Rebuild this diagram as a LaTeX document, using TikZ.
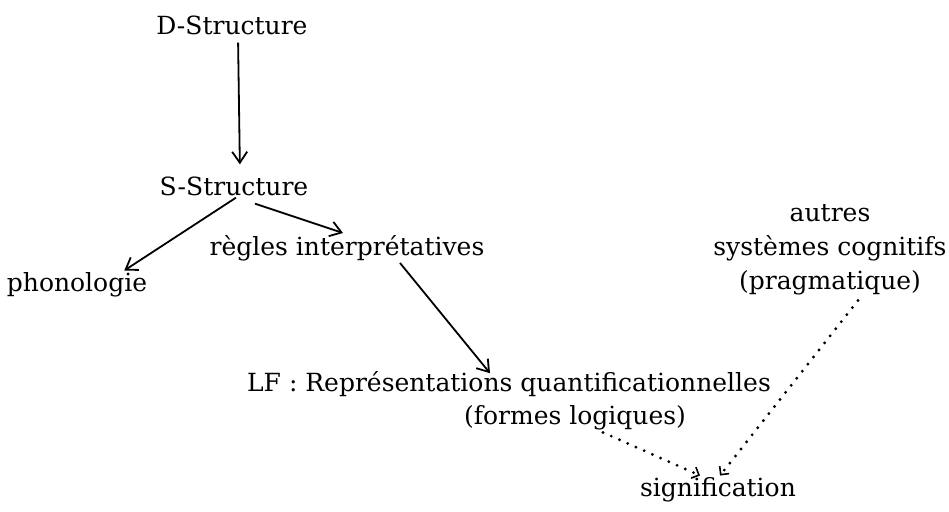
\documentclass[tikz,border=0pt]{standalone}
\usepackage{fontspec}
\setmainfont{DejaVu Serif}
\usetikzlibrary{arrows.meta}
\begin{document}
\begin{tikzpicture}[x=1pt,y=-1pt,
  lbl/.style={font=\fontsize{25}{34}\selectfont, inner sep=2pt, align=center},
  arr/.style={line width=1.8pt, -{Straight Barb[length=11pt,width=15pt,line width=1.8pt]}},
  dotarr/.style={line width=3.2pt, dash pattern=on 0pt off 9pt, line cap=round, -{Straight Barb[length=6pt,width=12pt,line width=1.6pt]}}]
\useasboundingbox (0,0) rectangle (949,511);
\node[lbl] (d) at (232,25) {D-Structure};
\node[lbl] (s) at (234,186) {S-Structure};
\node[lbl] (phon) at (77,285) {phonologie};
\node[lbl] (regles) at (347,248) {règles interprétatives};
\node[lbl] (lf) at (509,384) {LF : Représentations quantificationnelles};
\node[lbl] (formes) at (575,418) {(formes logiques)};
\node[lbl] (sig) at (718,490) {signification};
\node[lbl, inner sep=1pt] (autres) at (830,250) {autres\\systèmes cognitifs\\(pragmatique)};
\draw[arr, shorten <=6pt, shorten >=10pt] ([xshift=6pt]d.south) -- ([xshift=6pt]s.north);
\draw[arr] ([xshift=2pt]s.south) -- ([xshift=-25pt]phon.north east);
\draw[arr] ([xshift=21pt,yshift=-6pt]s.south) -- ([xshift=-4pt]regles.north);
\draw[arr] ([xshift=53pt]regles.south) -- ([xshift=-19pt,yshift=-4pt]lf.north);
\draw[dotarr] ([xshift=28pt]formes.south) -- ([xshift=-18pt]sig.north);
\draw[dotarr] ([xshift=28pt,yshift=-4pt]autres.south) -- ([xshift=2pt]sig.north);
\end{tikzpicture}
\end{document}
